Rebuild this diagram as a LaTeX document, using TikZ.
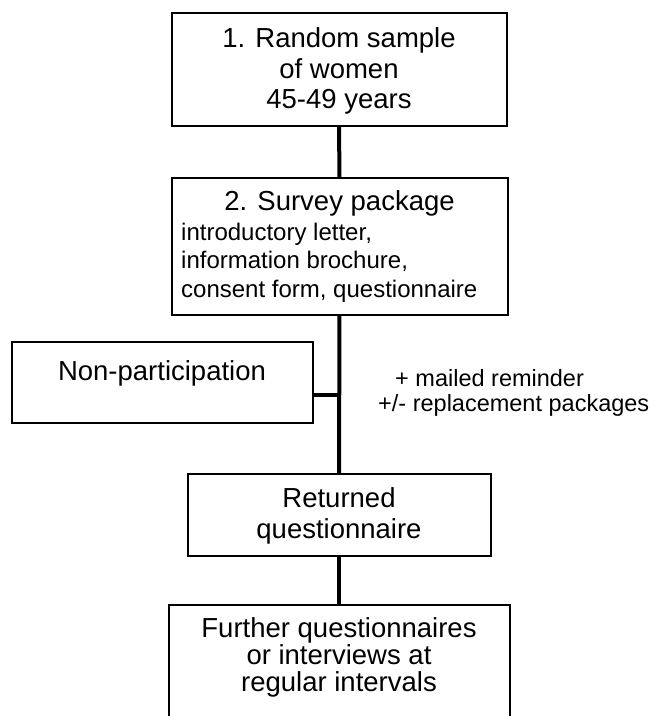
\documentclass[tikz,border=0pt]{standalone}
\usepackage{fontspec}
\setmainfont{Liberation Sans}
\begin{document}
\begin{tikzpicture}[x=1pt,y=-1pt,
  box/.style={draw=black, line width=2pt, inner sep=0pt, outer sep=0pt, anchor=center},
  conn/.style={draw=black, line width=4pt},
  big/.style={font=\fontsize{27.5}{31}\selectfont, inner sep=0pt, anchor=base},
  small/.style={font=\fontsize{24}{28}\selectfont, inner sep=0pt, anchor=base west},
  side/.style={font=\fontsize{23.5}{27}\selectfont, inner sep=0pt, anchor=base west}]
\useasboundingbox (0,0) rectangle (654,716);
% boxes
\node[box, minimum width=335pt, minimum height=113pt] (b1) at (339,69) {};
\node[box, minimum width=336pt, minimum height=137pt] (b2) at (339.5,246) {};
\node[box, minimum width=301pt, minimum height=81pt] (non) at (162,382) {};
\node[box, minimum width=303pt, minimum height=82pt] (ret) at (339,514.5) {};
\node[box, minimum width=341pt, minimum height=150pt] (bot) at (339,680) {};
% texts
\node[big] (t1a) at (339,47) {1. Random sample};
\node[big] (t1b) at (339,78) {of women};
\node[big] (t1c) at (339,108) {45-49 years};
\node[big] (t2a) at (339.5,210) {2. Survey package};
\node[small] (t2b) at (181,240) {introductory letter,};
\node[small] (t2c) at (181,268.5) {information brochure,};
\node[small] (t2d) at (181,297) {consent form, questionnaire};
\node[big] (tn) at (162,380) {Non-participation};
\node[side] (s1) at (395,386) {+ mailed reminder};
\node[side] (s2) at (378,411) {+/- replacement packages};
\node[big] (tra) at (339,507) {Returned};
\node[big] (trb) at (339,538) {questionnaire};
\node[big] (tba) at (339,637) {Further questionnaires};
\node[big] (tbb) at (339,664) {or interviews at};
\node[big] (tbc) at (339,691) {regular intervals};
% connectors
\coordinate (j) at (339,395);
\draw[conn] (b1.south) -- (b2.north);
\draw[conn] (b2.south) -- (ret.north);
\draw[conn] (non.east |- j) -- (j);
\draw[conn] (ret.south) -- (bot.north);
\end{tikzpicture}
\end{document}
